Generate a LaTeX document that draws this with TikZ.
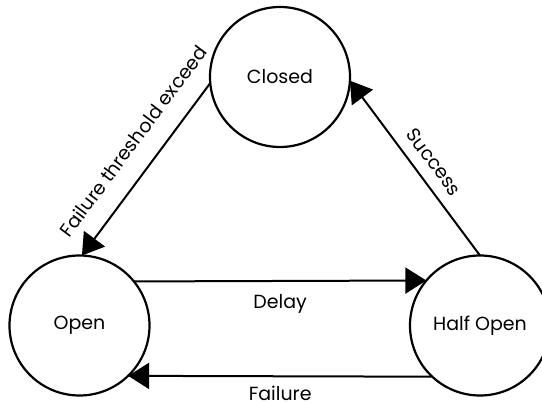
\documentclass[tikz,border=0pt]{standalone}
\usepackage{fontspec}
\setmainfont{Poppins}
\usetikzlibrary{arrows.meta}

\tikzset{
  state/.style={circle, draw, line width=2.2pt, minimum size=140pt,
    inner sep=0pt, outer sep=0pt, font=\fontsize{19}{22}\selectfont},
  trans/.style={line width=2pt, -{Triangle[length=21pt,width=26pt]}},
  lbl/.style={font=\fontsize{19}{22}\selectfont, inner sep=0pt}
}

\begin{document}
\begin{tikzpicture}[x=1pt,y=-1pt]
  \useasboundingbox (0,0) rectangle (542,403);

  % states of the breaker
  \node[state] (closed) at (280,77) {Closed};
  \node[state] (open) at (79.5,325.5) {Open};
  \node[state] (half) at (480,325.5) {Half Open};

  % transitions
  \draw[trans] (closed.185) -- node[lbl, pos=0.43, sloped, above=19pt] {Failure threshold exceed} (open.88);
  \draw[trans] (half.north) -- node[lbl, pos=0.47, sloped, above=11pt] {Success} (closed.-3);
  \draw[trans] (open.39.5) -- node[lbl, below=12pt] {Delay} (half.140.5);
  \draw[trans] (half.-133.8) -- node[lbl, below=9pt] {Failure} (open.-46.2);
\end{tikzpicture}
\end{document}
